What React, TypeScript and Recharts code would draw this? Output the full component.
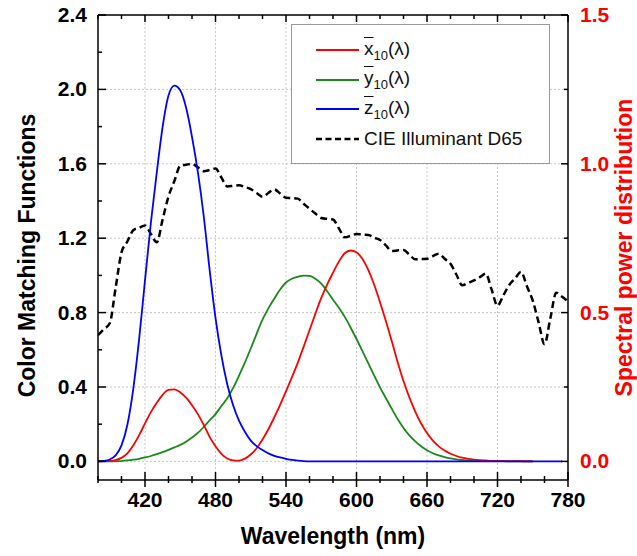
import { CartesianGrid, ComposedChart, Legend, Line, XAxis, YAxis } from 'recharts';

const FONT = "'Liberation Sans', Arial, sans-serif";

const wavelengths = [
  380, 385, 390, 395, 400, 405, 410, 415, 420, 425, 430, 435, 440, 445, 450, 455, 460, 465, 470, 475,
  480, 485, 490, 495, 500, 505, 510, 515, 520, 525, 530, 535, 540, 545, 550, 555, 560, 565, 570, 575,
  580, 585, 590, 595, 600, 605, 610, 615, 620, 625, 630, 635, 640, 645, 650, 655, 660, 665, 670, 675,
  680, 685, 690, 695, 700, 705, 710, 715, 720, 725, 730, 735, 740, 745, 750, 755, 760, 765, 770, 775,
  780,
];

// 10 degree colour matching functions (left axis)
const xBar10 = [
  0.0, 0.001, 0.002, 0.007, 0.019, 0.043, 0.085, 0.141, 0.204, 0.265, 0.315, 0.358, 0.384, 0.387, 0.371, 0.343, 0.302, 0.254, 0.196, 0.132,
  0.081, 0.041, 0.016, 0.005, 0.004, 0.015, 0.037, 0.071, 0.118, 0.173, 0.236, 0.304, 0.377, 0.452, 0.53, 0.616, 0.705, 0.794, 0.879, 0.951,
  1.014, 1.074, 1.119, 1.134, 1.124, 1.089, 1.03, 0.951, 0.856, 0.755, 0.647, 0.535, 0.432, 0.344, 0.268, 0.204, 0.153, 0.112, 0.081, 0.058,
  0.041, 0.029, 0.02, 0.014, 0.01, 0.007, 0.005, 0.003, 0.002, 0.002, 0.001, 0.001, 0.001, 0.0, 0.0, null, null, null, null, null,
  null,
];
const yBar10 = [
  0.0, 0.0, 0.0, 0.001, 0.002, 0.005, 0.009, 0.014, 0.021, 0.029, 0.039, 0.05, 0.062, 0.075, 0.089, 0.106, 0.128, 0.153, 0.185, 0.22,
  0.254, 0.298, 0.339, 0.395, 0.461, 0.531, 0.607, 0.686, 0.762, 0.823, 0.875, 0.924, 0.962, 0.982, 0.992, 0.999, 0.997, 0.982, 0.956, 0.915,
  0.869, 0.826, 0.777, 0.72, 0.658, 0.594, 0.528, 0.462, 0.398, 0.34, 0.283, 0.228, 0.18, 0.14, 0.108, 0.081, 0.06, 0.044, 0.032, 0.023,
  0.016, 0.011, 0.008, 0.005, 0.004, 0.003, 0.002, 0.001, 0.001, 0.001, 0.0, 0.0, 0.0, 0.0, 0.0, null, null, null, null, null,
  null,
];
const zBar10 = [
  0.001, 0.003, 0.01, 0.032, 0.086, 0.197, 0.389, 0.657, 0.973, 1.283, 1.553, 1.799, 1.967, 2.02, 1.995, 1.901, 1.745, 1.555, 1.318, 1.03,
  0.772, 0.57, 0.415, 0.302, 0.219, 0.159, 0.112, 0.082, 0.061, 0.043, 0.03, 0.021, 0.014, 0.008, 0.004, 0.001, 0, 0, 0, 0,
  0, 0, 0, 0, 0, 0, 0, 0, 0, 0, 0, 0, 0, 0, 0, 0, 0, 0, 0, 0,
  0, 0, 0, 0, 0, 0, 0, 0, 0, 0, 0, 0, 0, 0, 0, 0, 0, 0, 0, 0,
  null,
];

// CIE illuminant D65, relative spectral power (right axis)
const d65 = [
  0.424, 0.444, 0.464, 0.583, 0.702, 0.739, 0.777, 0.785, 0.793, 0.764, 0.736, 0.813, 0.89, 0.942, 0.993, 0.997, 1.0, 0.988, 0.975, 0.979,
  0.984, 0.954, 0.924, 0.926, 0.928, 0.922, 0.915, 0.902, 0.889, 0.902, 0.914, 0.9, 0.886, 0.885, 0.883, 0.866, 0.849, 0.833, 0.818, 0.815,
  0.813, 0.783, 0.753, 0.758, 0.764, 0.762, 0.761, 0.752, 0.744, 0.726, 0.707, 0.709, 0.71, 0.695, 0.679, 0.68, 0.681, 0.69, 0.698, 0.681,
  0.664, 0.628, 0.592, 0.6, 0.608, 0.619, 0.631, 0.577, 0.523, 0.558, 0.593, 0.615, 0.637, 0.589, 0.54, 0.467, 0.394, 0.481, 0.567, 0.553,
  0.538,
];

const xTicks = [380, 400, 420, 440, 460, 480, 500, 520, 540, 560, 580, 600, 620, 640, 660, 680, 700, 720, 740, 760, 780];
const xMajor = [420, 480, 540, 600, 660, 720, 780];
const leftTicks = [0, 0.2, 0.4, 0.6, 0.8, 1.0, 1.2, 1.4, 1.6, 1.8, 2.0, 2.2, 2.4];
const leftMajor = [0, 0.4, 0.8, 1.2, 1.6, 2.0, 2.4];
const rightTicks = [0, 0.25, 0.5, 0.75, 1.0, 1.25, 1.5];
const rightMajor = [0, 0.5, 1.0, 1.5];
const gridX = [420, 480, 540, 600, 660, 720];
const gridY = [0, 0.4, 0.8, 1.2, 1.6, 2.0];
const legendOrder = ['x', 'y', 'z', 'd65'];

const rows = wavelengths.map((wl, i) => ({ wl, x: xBar10[i], y: yBar10[i], z: zBar10[i], d65: d65[i] }));

const isIn = (list: number[], v: number) => list.some((m) => Math.abs(m - v) < 1e-6);

function BottomTick(props: any) {
  const { x, y, payload } = props;
  const major = isIn(xMajor, payload.value);
  return (
    <g>
      <line x1={x} x2={x} y1={y - (major ? 8 : 4)} y2={y + (major ? 7 : 3)} stroke="#000" strokeWidth={1.5} />
      {major && (
        <text x={x} y={y + 27} textAnchor="middle" fontFamily={FONT} fontWeight="bold" fontSize={21} fill="#000">
          {payload.value}
        </text>
      )}
    </g>
  );
}

function TopTick(props: any) {
  const { x, y, payload } = props;
  const major = isIn(xMajor, payload.value);
  return <line x1={x} x2={x} y1={y} y2={y + (major ? 7 : 4)} stroke="#000" strokeWidth={1.5} />;
}

function LeftTick(props: any) {
  const { x, y, payload } = props;
  const major = isIn(leftMajor, payload.value);
  return (
    <g>
      <line x1={x} x2={x + (major ? 8 : 4)} y1={y} y2={y} stroke="#000" strokeWidth={1.5} />
      {major && (
        <text x={x - 11} y={y + 7} textAnchor="end" fontFamily={FONT} fontWeight="bold" fontSize={21} fill="#000">
          {payload.value.toFixed(1)}
        </text>
      )}
    </g>
  );
}

function RightTick(props: any) {
  const { x, y, payload } = props;
  const major = isIn(rightMajor, payload.value);
  return (
    <g>
      <line x1={x} x2={x - (major ? 7 : 4)} y1={y} y2={y} stroke="#000" strokeWidth={1.5} />
      {major && (
        <text x={x + 12} y={y + 7} textAnchor="start" fontFamily={FONT} fontWeight="bold" fontSize={21} fill="#ff0000">
          {payload.value.toFixed(1)}
        </text>
      )}
    </g>
  );
}

function XTitle(props: any) {
  const { viewBox } = props;
  return (
    <text x={viewBox.x + viewBox.width / 2} y={viewBox.y + 64} textAnchor="middle" fontFamily={FONT} fontWeight="bold" fontSize={23} fill="#000">
      Wavelength (nm)
    </text>
  );
}

function LeftTitle(props: any) {
  const { viewBox } = props;
  const cx = viewBox.x + 27;
  const cy = viewBox.y + viewBox.height / 2 + 8;
  return (
    <text x={cx} y={cy} transform={`rotate(-90, ${cx}, ${cy})`} textAnchor="middle" dominantBaseline="central" fontFamily={FONT} fontWeight="bold" fontSize={23} fill="#000">
      Color Matching Functions
    </text>
  );
}

function RightTitle(props: any) {
  const { viewBox } = props;
  const cx = viewBox.x + 56;
  const cy = viewBox.y + viewBox.height / 2;
  return (
    <text x={cx} y={cy} transform={`rotate(-90, ${cx}, ${cy})`} textAnchor="middle" dominantBaseline="central" fontFamily={FONT} fontWeight="bold" fontSize={23} fill="#ff0000">
      Spectral power distribution
    </text>
  );
}

function CmfLabel({ letter }: { letter: string }) {
  return (
    <span>
      <span style={{ textDecoration: 'overline' }}>{letter}</span>
      <sub style={{ fontSize: 13 }}>10</sub>(λ)
    </span>
  );
}

function LegendBox(props: any) {
  const items = [...((props.payload || []) as any[])].sort(
    (a, b) => legendOrder.indexOf(a.dataKey) - legendOrder.indexOf(b.dataKey),
  );
  return (
    <div style={{ width: 257, height: 138, border: '1px solid #9a9a9a', background: '#fff', position: 'relative', fontFamily: FONT, fontSize: 19, color: '#111' }}>
      {items.map((it, i) => (
        <div key={it.dataKey} style={{ position: 'absolute', left: 24, top: 13 + i * 29.5, height: 24, display: 'flex', alignItems: 'center' }}>
          <svg width={43} height={4} style={{ display: 'block' }}>
            <line x1={0} y1={2} x2={43} y2={2} stroke={it.color} strokeWidth={it.dataKey === 'd65' ? 2.5 : 2} strokeDasharray={it.dataKey === 'd65' ? '6 3.5' : undefined} />
          </svg>
          <span style={{ marginLeft: 5, whiteSpace: 'nowrap' }}>
            {it.dataKey === 'd65' ? 'CIE Illuminant D65' : <CmfLabel letter={it.dataKey} />}
          </span>
        </div>
      ))}
    </div>
  );
}

const axisLine = { stroke: '#000', strokeWidth: 1.5 };

export default function App() {
  return (
    <div style={{ position: 'absolute', left: 0, top: 0, width: 637, height: 556, background: '#fff' }}>
      <ComposedChart width={637} height={556} data={rows} margin={{ top: 0, right: 0, bottom: 0, left: 0 }}>
        <CartesianGrid xAxisId="bottom" yAxisId="left" horizontalValues={gridY} verticalValues={gridX} stroke="#c8c8c8" strokeDasharray="2 2" />
        <XAxis xAxisId="bottom" dataKey="wl" type="number" domain={[380, 780]} ticks={xTicks} interval={0} height={76} tickSize={0} tickMargin={0} tickLine={false} tick={<BottomTick />} axisLine={axisLine} label={<XTitle />} allowDataOverflow />
        <XAxis xAxisId="top" orientation="top" dataKey="wl" type="number" domain={[380, 780]} ticks={xTicks} interval={0} height={15} tickSize={0} tickMargin={0} tickLine={false} tick={<TopTick />} axisLine={axisLine} allowDataOverflow />
        <YAxis yAxisId="left" type="number" domain={[-0.1, 2.4]} ticks={leftTicks} interval={0} width={98} tickSize={0} tickMargin={0} tickLine={false} tick={<LeftTick />} axisLine={axisLine} label={<LeftTitle />} allowDataOverflow />
        <YAxis yAxisId="right" orientation="right" type="number" domain={[-0.0625, 1.5]} ticks={rightTicks} interval={0} width={69} tickSize={0} tickMargin={0} tickLine={false} tick={<RightTick />} axisLine={axisLine} label={<RightTitle />} allowDataOverflow />
        <Legend layout="vertical" align="center" verticalAlign="middle" content={<LegendBox />} wrapperStyle={{ left: 291, top: 24, width: 259, height: 140 }} />
        <Line xAxisId="bottom" yAxisId="right" dataKey="d65" name="CIE Illuminant D65" type="monotone" stroke="#000" strokeWidth={2.5} strokeDasharray="7 4" dot={false} isAnimationActive={false} />
        <Line xAxisId="bottom" yAxisId="left" dataKey="y" name="y10" type="monotone" stroke="#1a8a1a" strokeWidth={1.8} dot={false} isAnimationActive={false} />
        <Line xAxisId="bottom" yAxisId="left" dataKey="x" name="x10" type="monotone" stroke="#ff0000" strokeWidth={1.8} dot={false} isAnimationActive={false} />
        <Line xAxisId="bottom" yAxisId="left" dataKey="z" name="z10" type="monotone" stroke="#0000ff" strokeWidth={1.8} dot={false} isAnimationActive={false} />
      </ComposedChart>
    </div>
  );
}
